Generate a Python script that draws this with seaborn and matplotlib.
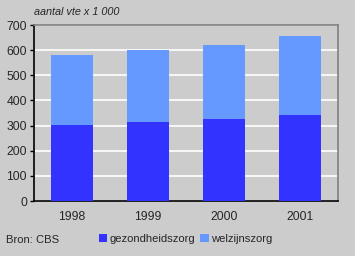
import matplotlib
matplotlib.use("Agg")
import matplotlib.pyplot as plt
import seaborn as sns
import pandas as pd
from matplotlib.patches import Patch

years = ["1998", "1999", "2000", "2001"]
gezondheidszorg = [302, 315, 326, 342]
welzijnszorg = [278, 285, 294, 314]
yticks = [0, 100, 200, 300, 400, 500, 600, 700]

totals = [a + b for a, b in zip(gezondheidszorg, welzijnszorg)]
df = pd.DataFrame({"jaar": years, "gez": gezondheidszorg, "tot": totals})

sns.set_style("white")
plt.rcParams['font.family'] = ['Liberation Sans', 'DejaVu Sans']

dark = "#3333FF"
light = "#6699FF"
bg = "#CCCCCC"

fig = plt.figure(figsize=(3.55, 2.56), dpi=100, facecolor=bg)
ax = fig.add_axes([34/355, 1 - 201/256, 304/355, 176/256])
ax.set_facecolor(bg)

sns.barplot(data=df, x="jaar", y="tot", color=light, width=0.55, saturation=1, ax=ax, zorder=3)
sns.barplot(data=df, x="jaar", y="gez", color=dark, width=0.55, saturation=1, ax=ax, zorder=3)
for p in ax.patches:
    p.set_edgecolor("none")

ax.set_ylim(0, 700)
ax.set_xlim(-0.5, 3.5)
ax.set_yticks(yticks)
ax.yaxis.grid(True, color="white", linewidth=1.2, zorder=0)
ax.set_axisbelow(True)
ax.set_xlabel("")
ax.set_ylabel("")
ax.tick_params(axis="y", length=3, width=1, color="black", labelsize=8.7, pad=2, direction="out", left=True)
ax.tick_params(axis="x", length=0, labelsize=8.7, pad=7)
for s in ["left", "bottom"]:
    ax.spines[s].set_color("black")
    ax.spines[s].set_linewidth(1.2)
for s in ["top", "right"]:
    ax.spines[s].set_visible(True)
    ax.spines[s].set_color("#808080")
    ax.spines[s].set_linewidth(1.2)

fig.text(34/355, 1 - 12/256, "aantal vte x 1 000", fontsize=7.8, style="italic", va="center", ha="left")
fig.text(6/355, 1 - 240/256, "Bron: CBS", fontsize=8.1, va="center", ha="left")

handles = [Patch(facecolor=dark, edgecolor="none", label="gezondheidszorg"),
           Patch(facecolor=light, edgecolor="none", label="welzijnszorg")]
fig.legend(handles=handles, loc="center left", bbox_to_anchor=(99/355, 1 - 239/256), ncol=2,
           frameon=False, fontsize=8.1, handlelength=0.75, handleheight=0.75, handletextpad=0.2,
           columnspacing=0.45, borderpad=0, borderaxespad=0)

fig.savefig("out.png", dpi=100, facecolor=bg)
